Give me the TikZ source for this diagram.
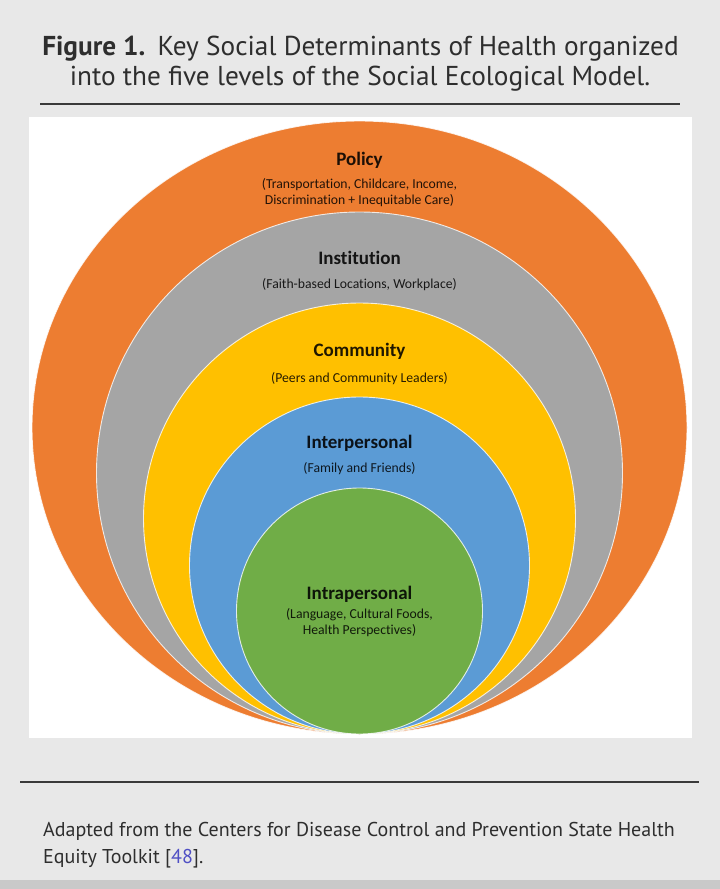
\documentclass[tikz,border=0pt]{standalone}
\usepackage{fontspec}
\setmainfont[Ligatures=NoCommon]{Carlito}
\newfontfamily\capfont{PT Sans}
\usetikzlibrary{shapes.geometric}
\definecolor{pagebg}{HTML}{E8E8E8}
\definecolor{stripgray}{HTML}{C9C9C9}
\definecolor{rulegray}{HTML}{3A3A3A}
\definecolor{sorange}{HTML}{ED7D31}
\definecolor{sgray}{HTML}{A5A5A5}
\definecolor{syellow}{HTML}{FFC000}
\definecolor{sblue}{HTML}{5B9BD5}
\definecolor{sgreen}{HTML}{70AD47}
\definecolor{reflink}{HTML}{4F4FC4}
\definecolor{captext}{HTML}{2E2E2E}
\begin{document}
\begin{tikzpicture}[x=1pt,y=-1pt,
  ring/.style={ellipse, draw=white, draw opacity=0.8, line width=0.9pt, inner sep=0pt, outer sep=0pt},
  head/.style={font=\fontsize{19}{22}\selectfont\bfseries, text=black, text opacity=0.88, inner sep=0pt},
  sub/.style={font=\fontsize{13.7}{16}\selectfont, text=black, text opacity=0.85, align=center, inner sep=0pt},
  titletext/.style={font=\capfont\fontsize{27.3}{30}\selectfont, text=captext, inner sep=0pt, anchor=base},
  notetext/.style={font=\capfont\fontsize{20}{27}\selectfont, text=captext, inner sep=0pt, anchor=base west},
  hrule/.style={line width=2.5pt, rulegray}]
\fill[pagebg] (0,0) rectangle (720,889);
\useasboundingbox (0,0) rectangle (720,889);
\fill[stripgray] (0,880) rectangle (720,889);
% title
\node[titletext] (title1) at (360.5,55) {\textbf{Figure 1.}\hspace{0.45em}Key Social Determinants of Health organized};
\node[titletext] (title2) at (360,85) {into the five levels of the Social Ecological Model.};
\draw[hrule] (40,104) -- (680,104);
% white panel
\fill[white] (29,117) rectangle (692,738);
% rings
\node[ring, fill=sorange, minimum width=655pt, minimum height=613pt] (policyring) at (359.5,427.5) {};
\node[ring, fill=sgray, minimum width=526pt, minimum height=522pt] (institutionring) at (359.5,473) {};
\node[ring, fill=syellow, minimum width=432pt, minimum height=431pt] (communityring) at (359.5,518.5) {};
\node[ring, fill=sblue, minimum width=340pt, minimum height=337pt] (interpersonalring) at (359.5,565.5) {};
\node[ring, fill=sgreen, minimum width=246pt, minimum height=246pt] (intrapersonalring) at (359.5,611) {};
% labels
\node[head] (policy) at (359.5,160) {Policy};
\node[sub] (policysub) at (359.5,193) {(Transportation, Childcare, Income,\\Discrimination + Inequitable Care)};
\node[head] (institution) at (359.5,258) {Institution};
\node[sub] (institutionsub) at (359.5,285) {(Faith-based Locations, Workplace)};
\node[head] (community) at (359.5,351) {Community};
\node[sub] (communitysub) at (359.5,379) {(Peers and Community Leaders)};
\node[head] (interpersonal) at (359.5,443) {Interpersonal};
\node[sub] (interpersonalsub) at (359.5,469) {(Family and Friends)};
\node[head] (intrapersonal) at (359.5,594) {Intrapersonal};
\node[sub] (intrapersonalsub) at (359.5,623) {(Language, Cultural Foods,\\Health Perspectives)};
% bottom note
\draw[hrule] (20,782) -- (699,782);
\node[notetext] (note1) at (43,836) {Adapted from the Centers for Disease Control and Prevention State Health};
\node[notetext] (note2) at (43,863) {Equity Toolkit [\textcolor{reflink}{48}].};
\end{tikzpicture}
\end{document}
